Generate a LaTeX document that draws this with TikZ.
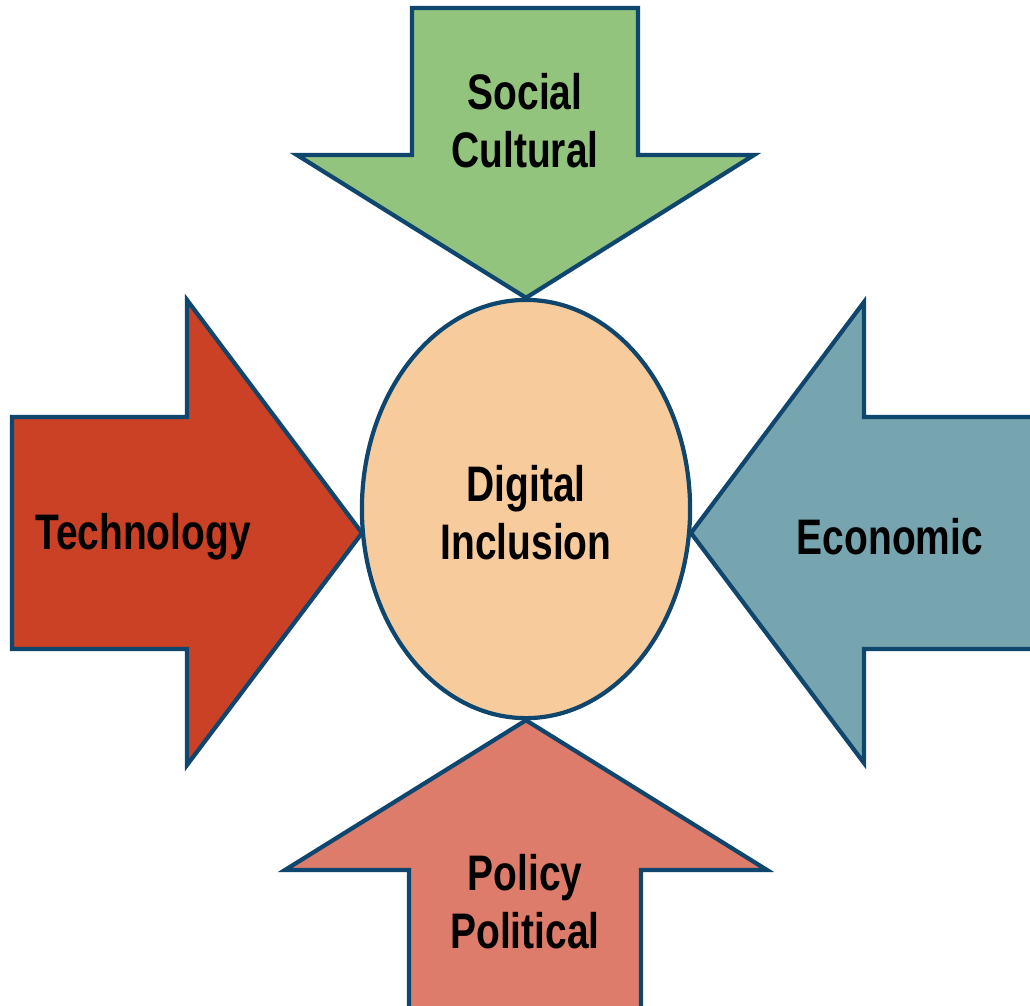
\documentclass[tikz,border=0pt]{standalone}
\usepackage{fontspec}
\newfontfamily\narrowsans[FakeStretch=0.78]{Liberation Sans}
\usetikzlibrary{shapes.geometric}
\definecolor{edgeblue}{RGB}{15,70,110}
\definecolor{socialgreen}{RGB}{147,196,125}
\definecolor{techred}{RGB}{202,65,37}
\definecolor{econteal}{RGB}{118,165,175}
\definecolor{policysalmon}{RGB}{221,124,106}
\definecolor{inclpeach}{RGB}{248,203,157}

\begin{document}
\begin{tikzpicture}[x=0.01cm,y=-0.01cm,
    font=\narrowsans\bfseries\fontsize{14.2}{16.5}\selectfont,
    arrowshape/.style={draw=edgeblue,line width=1.2pt,line join=miter},
    lbl/.style={align=center,text=black}]
    \useasboundingbox (0,0) rectangle (1030,1005);
    \clip (0,0) rectangle (1030,1005);

    % Add the centre
        \node[ellipse,draw=edgeblue,fill=inclpeach,line width=1.2pt,minimum width=3.28cm,minimum height=4.18cm] (incl) at (526,509) {};
        \node[lbl] (incltext) at (526,513) {Digital\\Inclusion};

    % Tips of the side arrows
        \coordinate (techtip) at (362,533);
        \coordinate (econtip) at (691,533);

    % Add the arrows
        \filldraw[arrowshape,fill=socialgreen]
            (412,8) -- (638,8) -- (638,155) -- (754,155) -- (incl.north) -- (297,155) -- (412,155) -- cycle;
        \filldraw[arrowshape,fill=techred]
            (12,417) -- (187,417) -- (187,300) -- (techtip) -- (187,765) -- (187,649) -- (12,649) -- cycle;
        \filldraw[arrowshape,fill=econteal]
            (1045,417) -- (864,417) -- (864,302) -- (econtip) -- (864,763) -- (864,649) -- (1045,649) -- cycle;
        \filldraw[arrowshape,fill=policysalmon]
            (409,1020) -- (409,870) -- (285,870) -- (incl.south) -- (767,870) -- (641,870) -- (641,1020) -- cycle;

    % Add the labels
        \node[lbl] (social) at (525,121) {Social\\Cultural};
        \node[lbl] (tech) at (143,537) {Technology};
        \node[lbl] (econ) at (890,537) {Economic};
        \node[lbl] (policy) at (525,902) {Policy\\Political};
\end{tikzpicture}
\end{document}
